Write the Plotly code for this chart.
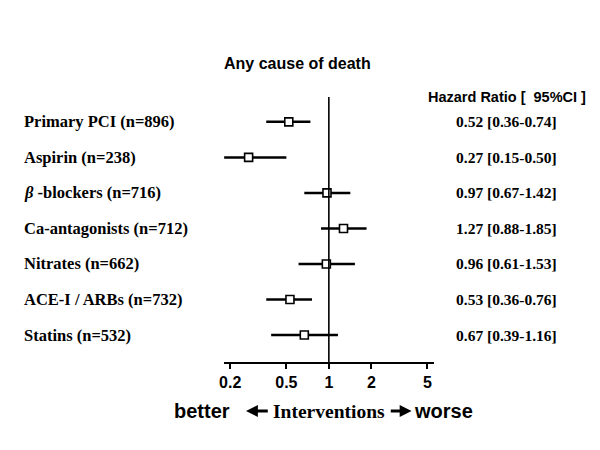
import plotly.graph_objects as go

labels = ["Primary PCI (n=896)", "Aspirin (n=238)", "<i>β</i> -blockers (n=716)",
          "Ca-antagonists (n=712)", "Nitrates (n=662)", "ACE-I / ARBs (n=732)",
          "Statins (n=532)"]
hr = [0.52, 0.27, 0.97, 1.27, 0.96, 0.53, 0.67]
lo = [0.36, 0.15, 0.67, 0.88, 0.61, 0.36, 0.39]
hi = [0.74, 0.50, 1.42, 1.85, 1.53, 0.76, 1.16]
tick_vals = [0.2, 0.5, 1, 2, 5]
tick_text = ["0.2", "0.5", "1", "2", "5"]

rows = list(range(len(labels)))

W, H = 600, 450
x0, x1 = 221, 433
ytop, ybot = 97, 362

fig = go.Figure()

# CI lines
lx, ly = [], []
for i in rows:
    lx += [lo[i], hi[i], None]
    ly += [i, i, None]
fig.add_trace(go.Scatter(x=lx, y=ly, mode="lines",
                         line=dict(color="black", width=2.5),
                         hoverinfo="skip", showlegend=False))
# point estimates
fig.add_trace(go.Scatter(x=hr, y=rows, mode="markers",
                         marker=dict(symbol="square", size=8, color="white",
                                     line=dict(color="black", width=1.6)),
                         showlegend=False))

# vertical reference line at 1
fig.add_shape(type="line", xref="x", yref="y domain", x0=1, x1=1, y0=0, y1=1,
              line=dict(color="black", width=1.6))

serif = "Liberation Serif, Times New Roman, serif"
sans = "Liberation Sans, Arial, sans-serif"

for i in rows:
    fig.add_annotation(x=17 / W, xref="paper", y=i, yref="y", text=labels[i],
                       xanchor="left", yanchor="middle", showarrow=False,
                       font=dict(family=serif, size=16.5, color="black", weight="bold"))
    fig.add_annotation(x=506 / W, xref="paper", y=i, yref="y",
                       text=f"{hr[i]:.2f} [{lo[i]:.2f}-{hi[i]:.2f}]",
                       xanchor="center", yanchor="middle", showarrow=False,
                       font=dict(family=serif, size=15.5, color="black", weight="bold"))

fig.add_annotation(x=506 / W, xref="paper", y=1 - 97 / H, yref="paper",
                   text="Hazard Ratio [  95%CI ]", xanchor="center", yanchor="middle",
                   showarrow=False,
                   font=dict(family=sans, size=14.5, color="black", weight="bold"))
fig.add_annotation(x=295 / W, xref="paper", y=1 - 63 / H, yref="paper",
                   text="Any cause of death", xanchor="center", yanchor="middle",
                   showarrow=False,
                   font=dict(family=sans, size=16, color="black", weight="bold"))

# bottom caption
yb = 1 - 411 / H
fig.add_annotation(x=168 / W, xref="paper", y=yb, yref="paper", text="better",
                   xanchor="left", yanchor="middle", showarrow=False,
                   font=dict(family=sans, size=20, color="black", weight="bold"))
fig.add_annotation(x=327 / W, xref="paper", y=yb, yref="paper", text="Interventions",
                   xanchor="center", yanchor="middle", showarrow=False,
                   font=dict(family=serif, size=19.5, color="black", weight="bold"))
fig.add_annotation(x=410 / W, xref="paper", y=yb, yref="paper", text="worse",
                   xanchor="left", yanchor="middle", showarrow=False,
                   font=dict(family=sans, size=20, color="black", weight="bold"))


def px(x):
    return x / W


def py(y):
    return 1 - y / H


ya = 411
# left arrow
fig.add_shape(type="path", xref="paper", yref="paper",
              path=f"M {px(243)} {py(ya)} L {px(255)} {py(ya-6)} L {px(255)} {py(ya-1.5)} "
                   f"L {px(265)} {py(ya-1.5)} L {px(265)} {py(ya+1.5)} L {px(255)} {py(ya+1.5)} "
                   f"L {px(255)} {py(ya+6)} Z",
              fillcolor="black", line=dict(width=0))
# right arrow
fig.add_shape(type="path", xref="paper", yref="paper",
              path=f"M {px(410)} {py(ya)} L {px(398)} {py(ya-6)} L {px(398)} {py(ya-1.5)} "
                   f"L {px(389)} {py(ya-1.5)} L {px(389)} {py(ya+1.5)} L {px(398)} {py(ya+1.5)} "
                   f"L {px(398)} {py(ya+6)} Z",
              fillcolor="black", line=dict(width=0))

n = len(labels)
top_pad = 0.70
bot_pad = 0.76

fig.update_layout(
    width=W, height=H,
    margin=dict(l=0, r=0, t=0, b=0),
    paper_bgcolor="white", plot_bgcolor="white",
    xaxis=dict(type="log", domain=[x0 / W, x1 / W],
               range=[-0.742, 0.748],
               tickvals=tick_vals, ticktext=tick_text,
               showgrid=False, zeroline=False,
               showline=True, linecolor="black", linewidth=2,
               ticks="outside", ticklen=5, tickwidth=2, tickcolor="black",
               tickfont=dict(family=sans, size=16, color="black", weight="bold")),
    yaxis=dict(domain=[1 - ybot / H, 1 - ytop / H],
               range=[n - 1 + bot_pad, -top_pad],
               showgrid=False, zeroline=False, showline=False,
               showticklabels=False, ticks=""),
    showlegend=False,
)

fig.write_html("out.html", config={"displayModeBar": False},
               post_script="document.body.style.margin='0';document.body.style.overflow='hidden';")
